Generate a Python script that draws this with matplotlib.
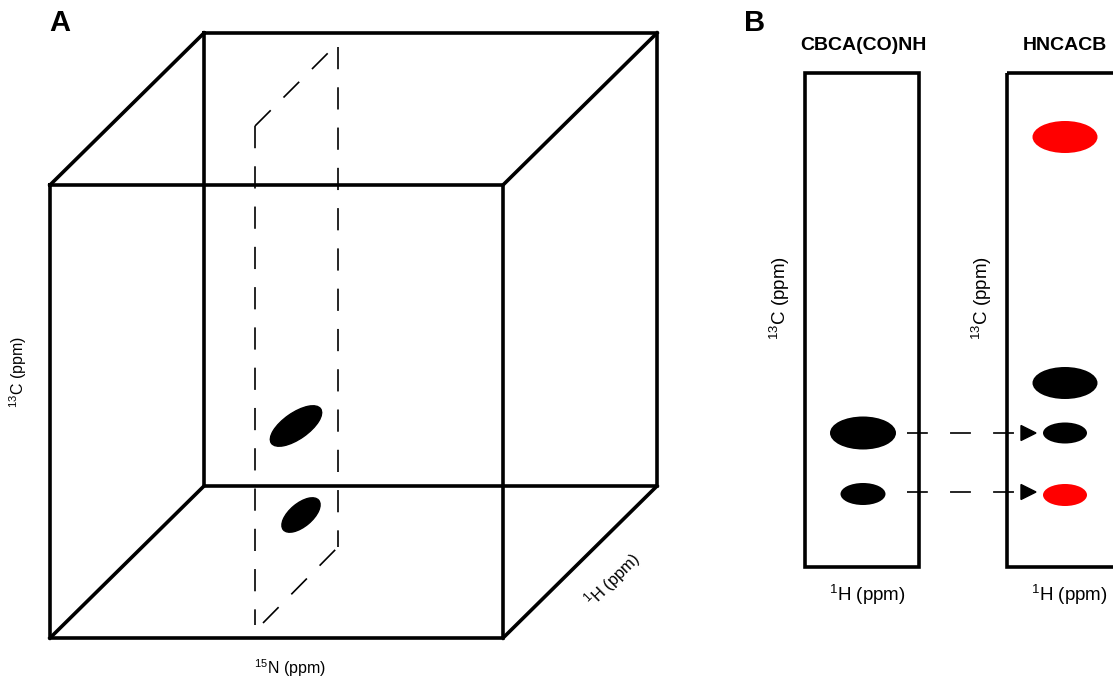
import matplotlib
matplotlib.use("Agg")
import matplotlib.pyplot as plt
import matplotlib.patches as patches

plt.rcParams['font.family'] = ['Liberation Sans', 'DejaVu Sans']
plt.rcParams['mathtext.fontset'] = 'custom'
plt.rcParams['mathtext.rm'] = 'Liberation Sans'
plt.rcParams['lines.scale_dashes'] = False

# 立方体 (パネルA) : 前面と奥行き
FRONT = (50, 185, 503, 638)      # 左, 上, 右, 下
DEPTH = (154, -152)              # 奥面へのずれ
# 立方体内の断面 (破線)
PLANE_X = [255, 338]
PLANE_Y = [(126, 625), (47, 547)]
# パネルA のピーク (中心x, 中心y, 幅, 高さ, 角度)
cube_peaks = [(296, 426, 60, 26, -35), (301, 515, 46, 23, -40)]

# パネルB のストリップ
strip_names = ["CBCA(CO)NH", "HNCACB"]
strip_left = [805, 1007]
STRIP_W = 114
STRIP_TOP, STRIP_BOT = 73, 567
# ピーク (13C位置, 幅, 高さ, 色)
cbca_peaks = [(433, 66, 33, 'black'), (494, 45, 22, 'black')]
hncacb_peaks = [(137, 65, 32, 'red'), (383, 65, 32, 'black'),
                (433, 44, 21, 'black'), (495, 44, 22, 'red')]
link_c = [433, 492]

fig = plt.figure(figsize=(11.13, 6.85), dpi=100)
ax = fig.add_axes([0, 0, 1, 1])
ax.set_xlim(0, 1113)
ax.set_ylim(685, 0)
ax.axis('off')

LW = 2.6
l, t, r, b = FRONT
dx, dy = DEPTH
# 奥面
ax.plot([l+dx, r+dx, r+dx, l+dx, l+dx], [t+dy, t+dy, b+dy, b+dy, t+dy], color='k', lw=LW,
        solid_joinstyle='miter')
# 前面
ax.plot([l, r, r, l, l], [t, t, b, b, t], color='k', lw=LW, solid_joinstyle='miter')
# 奥行きの辺
for px, py in [(l, t), (r, t), (r, b), (l, b)]:
    ax.plot([px, px+dx], [py, py+dy], color='k', lw=LW)

# 断面の破線
dash = (0, (16, 13))
x0, x1 = PLANE_X
ax.plot([x0, x0], PLANE_Y[0], color='k', lw=1.2, linestyle=dash)
ax.plot([x1, x1], PLANE_Y[1], color='k', lw=1.2, linestyle=dash)
ax.plot([x0, x1 - 10], [PLANE_Y[0][0], PLANE_Y[1][0] + 6], color='k', lw=1.2, linestyle=dash)
ax.plot([x0 + 8, x1], [PLANE_Y[0][1] - 2, PLANE_Y[1][1]], color='k', lw=1.2, linestyle=dash)

for cx, cy, w, h, ang in cube_peaks:
    ax.add_patch(patches.Ellipse((cx, cy), w, h, angle=ang, color='k'))

ax.text(60, 23, "A", fontsize=21, fontweight='bold', ha='center', va='center')
ax.text(18, 372, r"$^{13}$C (ppm)", fontsize=11.5, rotation=90, ha='center', va='center')
ax.text(290, 668, r"$^{15}$N (ppm)", fontsize=11.5, ha='center', va='center')
ax.text(613, 580, r"$^{1}$H (ppm)", fontsize=12, rotation=45, ha='center', va='center',
        rotation_mode='anchor')

# パネルB
ax.text(755, 23, "B", fontsize=21, fontweight='bold', ha='center', va='center')
for name, x, peaks in zip(strip_names, strip_left, [cbca_peaks, hncacb_peaks]):
    ax.add_patch(patches.Rectangle((x, STRIP_TOP), STRIP_W, STRIP_BOT - STRIP_TOP,
                                   fill=False, ec='k', lw=LW, joinstyle='miter'))
    cx = x + 58
    ax.text(cx, 45, name, fontsize=14, fontweight='bold', ha='center', va='center')
    ax.text(cx + 4, 595, r"$^{1}$H (ppm)", fontsize=13.5, ha='center', va='center')
    ax.text(x - 25, 298, r"$^{13}$C (ppm)", fontsize=13.5, rotation=90, ha='center', va='center')
    for cy, w, h, col in peaks:
        ax.add_patch(patches.Ellipse((cx, cy), w, h, color=col, lw=0))

for cy in link_c:
    ax.plot([907, 1019], [cy, cy], color='k', lw=1.2, linestyle=(0, (15, 16)))
    ax.add_patch(patches.Polygon([(1021, cy - 7.5), (1021, cy + 7.5), (1036, cy)],
                                 closed=True, color='k'))

fig.savefig("out.png", dpi=100)
